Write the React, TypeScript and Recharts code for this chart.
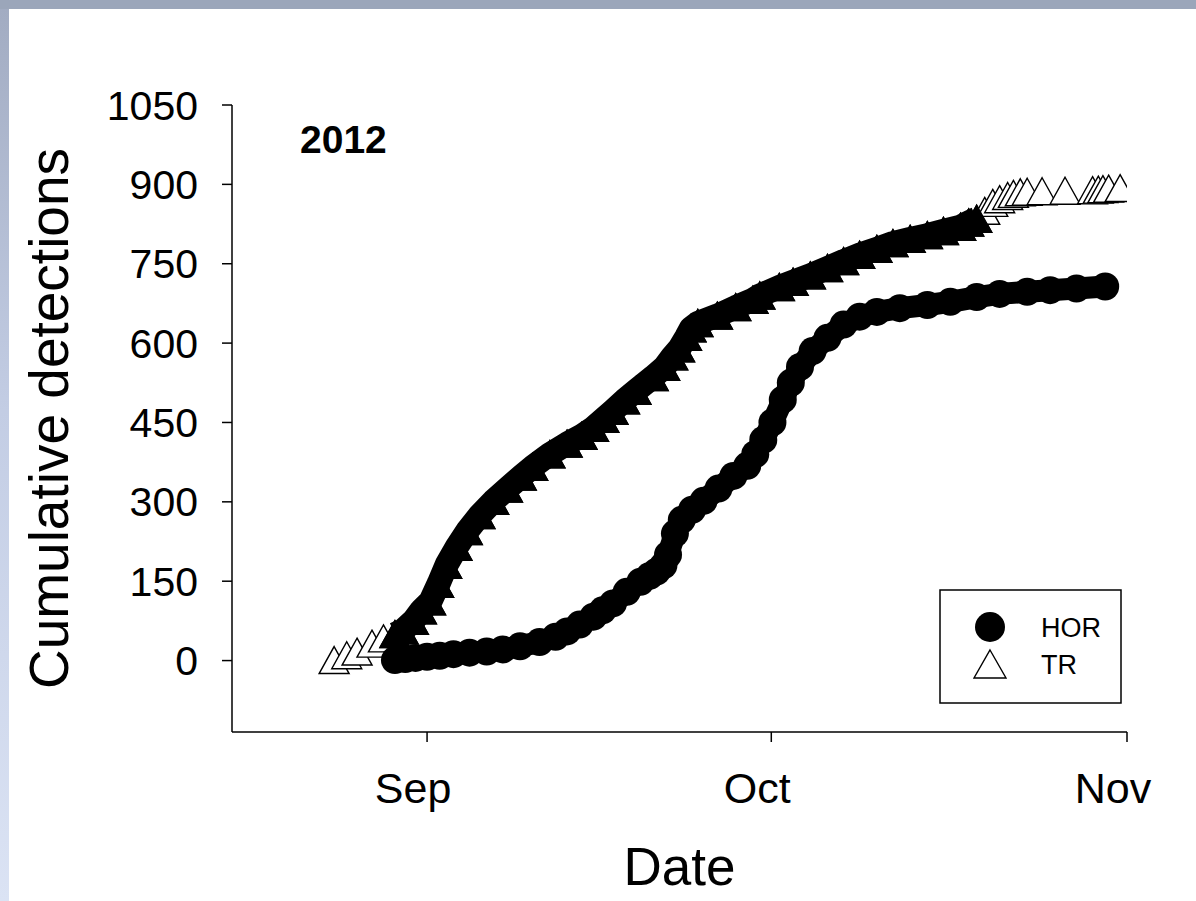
import React from 'react';
import { ScatterChart, Scatter, XAxis, YAxis, Legend } from 'recharts';

// Day offsets are days relative to 1 September 2012 (0 = Sep 1)
const TR_DAYS = [-8.1, -7.0, -6.1, -4.8, -3.8, -2.8, -2.1, -1.2, -0.5, 0.3, 1.0, 1.7, 2.6, 3.5, 4.6, 5.8, 7.0, 8.2, 9.2, 10.7, 12.2, 13.5, 14.5, 15.4, 16.2, 17.2, 18.2, 19.7, 20.7, 21.4, 22.0, 22.6, 23.0, 23.6, 25.3, 26.9, 28.4, 29.0, 30.7, 31.9, 33.4, 34.9, 36.3, 37.7, 39.2, 40.6, 42.1, 43.6, 45.0, 46.5, 47.2, 47.9, 48.6, 49.3, 49.9, 50.6, 51.1, 51.7, 52.3, 53.6, 55.6, 58.0, 58.5, 58.9, 59.4, 60.4];
const TR_COUNTS = [1, 10, 17, 32, 42, 50, 57, 75, 95, 112, 145, 181, 215, 245, 275, 302, 325, 348, 366, 390, 410, 425, 440, 457, 472, 492, 510, 536, 555, 575, 590, 612, 628, 638, 652, 668, 682, 690, 706, 716, 728, 742, 755, 767, 778, 789, 797, 804, 812, 820, 828, 835, 850, 865, 872, 878, 882, 885, 886, 887, 888, 889, 890, 891, 892, 893];

const HOR_DAYS = [-2.8, -1.9, -1.0, 0.0, 1.1, 2.3, 3.7, 5.2, 6.6, 8.1, 9.8, 11.2, 12.2, 13.3, 14.5, 15.3, 16.2, 17.4, 18.6, 19.4, 20.0, 20.6, 21.0, 21.6, 22.2, 23.1, 24.1, 25.4, 26.7, 27.9, 28.6, 29.3, 30.1, 31.0, 31.7, 32.5, 33.6, 34.9, 36.3, 37.7, 39.2, 41.2, 43.6, 45.6, 47.9, 49.9, 52.3, 54.3, 56.6, 59.1];
const HOR_COUNTS = [1, 3, 5, 7, 9, 12, 15, 17, 21, 27, 35, 45, 55, 68, 83, 95, 108, 130, 149, 160, 168, 180, 200, 240, 266, 285, 302, 325, 349, 368, 390, 417, 450, 493, 525, 555, 585, 610, 635, 650, 659, 666, 672, 678, 687, 693, 697, 700, 703, 707];

const X_TICKS = [0, 30, 61];
const X_TICK_LABELS = ['Sep', 'Oct', 'Nov'];
const Y_TICKS = [0, 150, 300, 450, 600, 750, 900, 1050];
const SERIES_NAMES = ['HOR', 'TR'];
const YEAR_LABEL = '2012';

// dense part of the TR record where overlapping markers merge into a solid band
const TR_DENSE_FROM = -3;
const TR_DENSE_TO = 48;

const trData = TR_DAYS.map((d, i) => ({ day: d, count: TR_COUNTS[i] }));
const trDense = trData.filter((p) => p.day >= TR_DENSE_FROM && p.day <= TR_DENSE_TO);
const horData = HOR_DAYS.map((d, i) => ({ day: d, count: HOR_COUNTS[i] }));

const FONT = '"Liberation Sans", Arial, Helvetica, sans-serif';

const triPath = (cx: number, cy: number) =>
  `M${cx},${cy - 13.5} L${cx + 15},${cy + 13.5} L${cx - 15},${cy + 13.5} Z`;

const Triangle = (props: any) => {
  const { cx, cy } = props;
  if (cx == null || cy == null) return <g />;
  return <path d={triPath(cx, cy)} fill="#fff" stroke="#000" strokeWidth={1.4} />;
};

const SolidTriangle = (props: any) => {
  const { cx, cy } = props;
  if (cx == null || cy == null) return <g />;
  return <path d={triPath(cx, cy)} fill="#000" stroke="#000" strokeWidth={1.4} />;
};

const Dot = (props: any) => {
  const { cx, cy } = props;
  if (cx == null || cy == null) return <g />;
  return <circle cx={cx} cy={cy} r={14} fill="#000" />;
};

const renderLegend = (props: any) => {
  const payload: any[] = (props.payload || []).filter((e: any) => SERIES_NAMES.includes(e.value));
  payload.sort((a, b) => SERIES_NAMES.indexOf(a.value) - SERIES_NAMES.indexOf(b.value));
  return (
    <svg width={184} height={116} style={{ display: 'block' }}>
      <rect x={1} y={1} width={181} height={113} fill="#fff" stroke="#000" strokeWidth={1.5} />
      {payload.map((e: any, i: number) => {
        const cy = 38 + i * 37;
        return (
          <g key={e.value}>
            {e.value === 'HOR' ? (
              <circle cx={51} cy={cy} r={15} fill="#000" />
            ) : (
              <path d={`M51,${cy - 14} L67,${cy + 14} L35,${cy + 14} Z`} fill="#fff" stroke="#000" strokeWidth={1.4} />
            )}
            <text x={102} y={cy + 10} fontSize={27} fontFamily={FONT} fill="#000">
              {e.value}
            </text>
          </g>
        );
      })}
    </svg>
  );
};

export default function App() {
  return (
    <div
      style={{
        position: 'absolute',
        left: 0,
        top: 0,
        width: 1196,
        height: 901,
        background: '#fff',
        overflow: 'hidden',
        fontFamily: FONT,
      }}
    >
      <div style={{ position: 'absolute', left: 0, top: 0, width: 1196, height: 9, background: '#9ba6ba' }} />
      <div
        style={{
          position: 'absolute',
          left: 0,
          top: 9,
          width: 9,
          height: 892,
          background: 'linear-gradient(to bottom, #a2acc2 0%, #c3cde4 45%, #dbe3f4 100%)',
        }}
      />
      <div style={{ position: 'absolute', left: 0, top: 0 }}>
        <ScatterChart width={1196} height={901} margin={{ top: 105, right: 69, bottom: 0, left: 0 }}>
          <XAxis
            type="number"
            dataKey="day"
            domain={[-17, 61]}
            ticks={X_TICKS}
            tickFormatter={(v: number) => X_TICK_LABELS[X_TICKS.indexOf(v)] ?? ''}
            height={169}
            tickSize={10}
            tickMargin={30}
            axisLine={{ stroke: '#000', strokeWidth: 1.5 }}
            tickLine={{ stroke: '#000', strokeWidth: 1.5 }}
            tick={{ fill: '#000', fontSize: 43, fontFamily: FONT, dx: -14 }}
            allowDataOverflow
            label={{ value: 'Date', position: 'insideBottom', offset: 16, fontSize: 53, fill: '#000', fontFamily: FONT }}
          />
          <YAxis
            type="number"
            dataKey="count"
            domain={[-135, 1050]}
            ticks={Y_TICKS}
            width={232}
            tickSize={10}
            tickMargin={24}
            axisLine={{ stroke: '#000', strokeWidth: 1.5 }}
            tickLine={{ stroke: '#000', strokeWidth: 1.5 }}
            tick={{ fill: '#000', fontSize: 41, fontFamily: FONT }}
            allowDataOverflow
            label={{
              value: 'Cumulative detections',
              angle: -90,
              position: 'insideLeft',
              offset: 48,
              fontSize: 55,
              fill: '#000',
              fontFamily: FONT,
              style: { textAnchor: 'middle' },
            }}
          />
          <Legend
            content={renderLegend}
            layout="horizontal"
            verticalAlign="middle"
            align="center"
            wrapperStyle={{ position: 'absolute', left: 939, top: 589, width: 184, height: 116 }}
          />
          <Scatter name="TR" data={trData} shape={<Triangle />} fill="#fff" stroke="#000" isAnimationActive={false} />
          <Scatter
            name="TR band"
            data={trDense}
            shape={<SolidTriangle />}
            fill="#000"
            stroke="#000"
            line={{ stroke: '#000', strokeWidth: 24, strokeLinejoin: 'round', strokeLinecap: 'butt' }}
            legendType="none"
            isAnimationActive={false}
          />
          <Scatter
            name="HOR"
            data={horData}
            shape={<Dot />}
            fill="#000"
            stroke="#000"
            line={{ stroke: '#000', strokeWidth: 22, strokeLinejoin: 'round', strokeLinecap: 'butt' }}
            isAnimationActive={false}
          />
        </ScatterChart>
      </div>
      <svg style={{ position: 'absolute', left: 0, top: 0, pointerEvents: 'none' }} width={1196} height={901}>
        <text x={300} y={153} fontSize={39} fontWeight="bold" fontFamily={FONT} fill="#000">
          {YEAR_LABEL}
        </text>
      </svg>
    </div>
  );
}
